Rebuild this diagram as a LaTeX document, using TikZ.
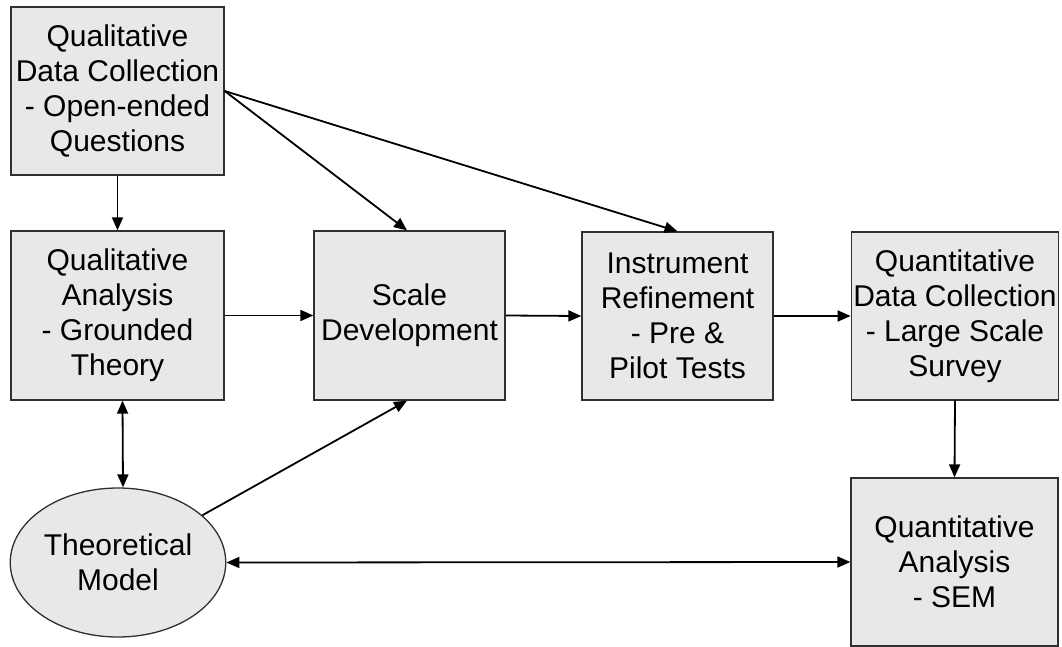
\documentclass[tikz,border=0pt]{standalone}
\usepackage{fontspec}
\setmainfont{Liberation Sans}
\usetikzlibrary{arrows.meta,shapes.geometric}
\definecolor{boxfill}{HTML}{E8E8E8}
\definecolor{boxline}{HTML}{303030}
\tikzset{
  base/.style={draw=boxline, fill=boxfill, line width=1.3pt, align=center,
    inner sep=2pt, font=\fontsize{30}{35}\selectfont},
  stage/.style={base, rectangle},
  oval/.style={base, ellipse},
  arr/.style={draw=black, line width=1.8pt, -{Triangle[length=13pt,width=11pt]}},
  darr/.style={draw=black, line width=1.8pt, {Triangle[length=13pt,width=11pt]}-{Triangle[length=13pt,width=11pt]}}
}
\begin{document}
\begin{tikzpicture}[x=1pt,y=-1pt]
  \useasboundingbox (0,0) rectangle (1062,647);

  % stages of the study
  \node[stage, minimum width=213pt, minimum height=168pt] (qdc) at (117.5,91)
    {Qualitative\\Data Collection\\- Open-ended\\Questions};
  \node[stage, minimum width=213pt, minimum height=169pt] (qa) at (117.5,315.5)
    {Qualitative\\Analysis\\- Grounded\\Theory};
  \node[stage, minimum width=191pt, minimum height=169pt] (sd) at (409.5,315.5)
    {Scale\\Development};
  \node[stage, minimum width=191pt, minimum height=168pt] (ir) at (677.5,316)
    {Instrument\\Refinement\\- Pre \&\\Pilot Tests};
  \node[stage, minimum width=206pt, minimum height=168pt] (qdcq) at (955,316)
    {Quantitative\\Data Collection\\- Large Scale\\Survey};
  \node[stage, minimum width=207pt, minimum height=168pt] (qan) at (954.5,562)
    {Quantitative\\Analysis\\- SEM};
  \node[oval, minimum width=212pt, minimum height=149pt] (tm) at (118,562.5)
    {Theoretical\\Model};

  % connectors
  \draw[arr] (qdc.south) -- (qa.north);
  \draw[arr] (qdc.east) -- ([xshift=-2.5pt]sd.north);
  \draw[arr] (qdc.east) -- (ir.north);
  \draw[arr] (qa.east) -- (sd.west);
  \draw[arr] (sd.east) -- (ir.west);
  \draw[arr] (ir.east) -- (qdcq.west);
  \draw[arr] (qdcq.south) -- (qan.north);
  \draw[darr] ([xshift=5pt]qa.south) -- ([xshift=5pt]tm.north);
  \draw[darr] (tm.east) -- (qan.west);
  \draw[arr] (tm) -- ([xshift=-2.5pt]sd.south);
\end{tikzpicture}
\end{document}
